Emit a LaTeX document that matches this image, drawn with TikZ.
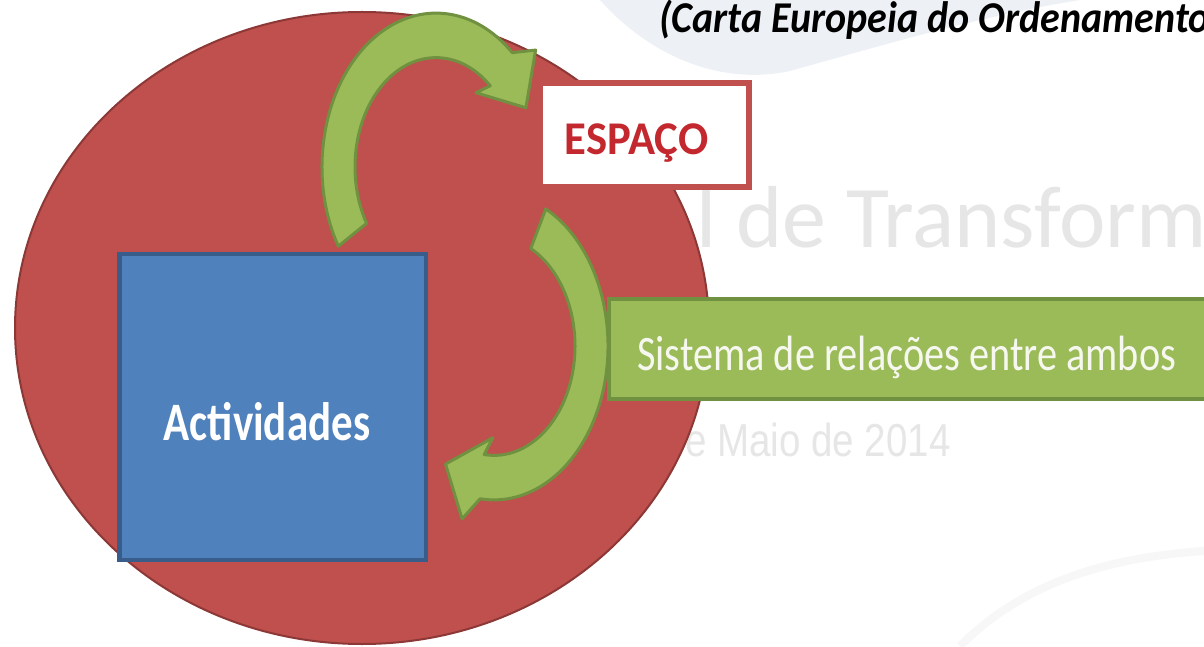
\documentclass[tikz,border=0pt]{standalone}
\usepackage{fontspec}
\setmainfont{Carlito}
\newfontfamily\arialf{Liberation Sans}
\definecolor{redfill}{HTML}{C0504D}
\definecolor{redline}{HTML}{8C3836}
\definecolor{bluefill}{HTML}{4F81BD}
\definecolor{blueline}{HTML}{385D8A}
\definecolor{greenfill}{HTML}{9BBB59}
\definecolor{greenline}{HTML}{6F9140}
\definecolor{wordred}{HTML}{C3282E}
\definecolor{wmgray}{HTML}{E6E6E6}
\definecolor{swoosh}{HTML}{EDF1F6}
\definecolor{lighttext}{HTML}{F6F8EF}
\tikzset{
  garrow/.style={fill=greenfill, draw=greenline, line width=3pt, line join=round},
  barbox/.style={fill=greenfill, draw=greenline, line width=4pt, inner sep=0pt},
  watermark/.style={text=wmgray, inner sep=0pt},
}
\newcommand\circarrow[3]{%
  \begin{scope}[shift={#1}, yscale=1.35]
    \filldraw[garrow] (#2:114) arc[start angle=#2, end angle=#3, radius=114]
      -- ({#3-7}:132) -- ({#3-22}:100) -- ({#3+6}:68) -- (#3:81)
      arc[start angle=#3, end angle=#2, radius=81] -- cycle;
  \end{scope}}
\begin{document}
\begin{tikzpicture}[x=1pt,y=1pt]
\useasboundingbox (0,0) rectangle (1204,646);
\fill[white] (0,0) rectangle (1204,646);
% faint background
\fill[swoosh] (600,646) .. controls (650,590) and (720,560) .. (790,575)
  .. controls (880,600) and (980,630) .. (1080,646) -- cycle;
\draw[line width=8pt, black!3] (960,0) .. controls (1020,60) and (1100,88) .. (1204,95);
\node[watermark, anchor=base west, font=\fontsize{88}{94}\selectfont] (wm1) at (696,398) {l de Transform};
\node[watermark, anchor=base west, font=\arialf\fontsize{38.5}{42}\selectfont] (wm2) at (685,190) {\scalebox{1}[1.2]{e Maio de 2014}};
% main circle
\draw[fill=redfill, draw=redline, line width=2pt] (362,318) ellipse [x radius=347, y radius=316];
% Actividades
\node[draw=blueline, fill=bluefill, line width=4.5pt, minimum width=306.5pt, minimum height=305.5pt, inner sep=0pt] (act) at (272.5,239) {};
\node[anchor=base, text=white, inner sep=0pt, font=\bfseries\fontsize{43}{46}\selectfont] (actlabel) at (267,206) {\scalebox{1}[1.26]{Actividades}};
% arrows
\circarrow{(436,479)}{211}{48}
\circarrow{(494,300)}{63}{-97}
% ESPACO
\node[draw=redfill, fill=white, line width=6pt, minimum width=209pt, minimum height=104pt, inner sep=0pt] (esp) at (644.5,511) {};
\node[anchor=base, text=wordred, inner sep=0pt, font=\bfseries\fontsize{44.7}{48}\selectfont] (esplabel) at (636.5,491) {\scalebox{1}[1.05]{ESPAÇO}};
% bar
\node[barbox, anchor=west, minimum width=610pt, minimum height=100pt] (bar) at (607,297) {};
\node[anchor=base west, text=lighttext, inner sep=0pt, font=\fontsize{40.3}{44}\selectfont] (barlabel) at (637,276) {\scalebox{1}[1.23]{Sistema de relações entre ambos}};
% title
\node[anchor=base west, inner sep=0pt, font=\bfseries\itshape\fontsize{40}{44}\selectfont] (title) at (659,613) {\scalebox{1}[1.1]{(Carta Europeia do Ordenamento}};
\end{tikzpicture}
\end{document}
